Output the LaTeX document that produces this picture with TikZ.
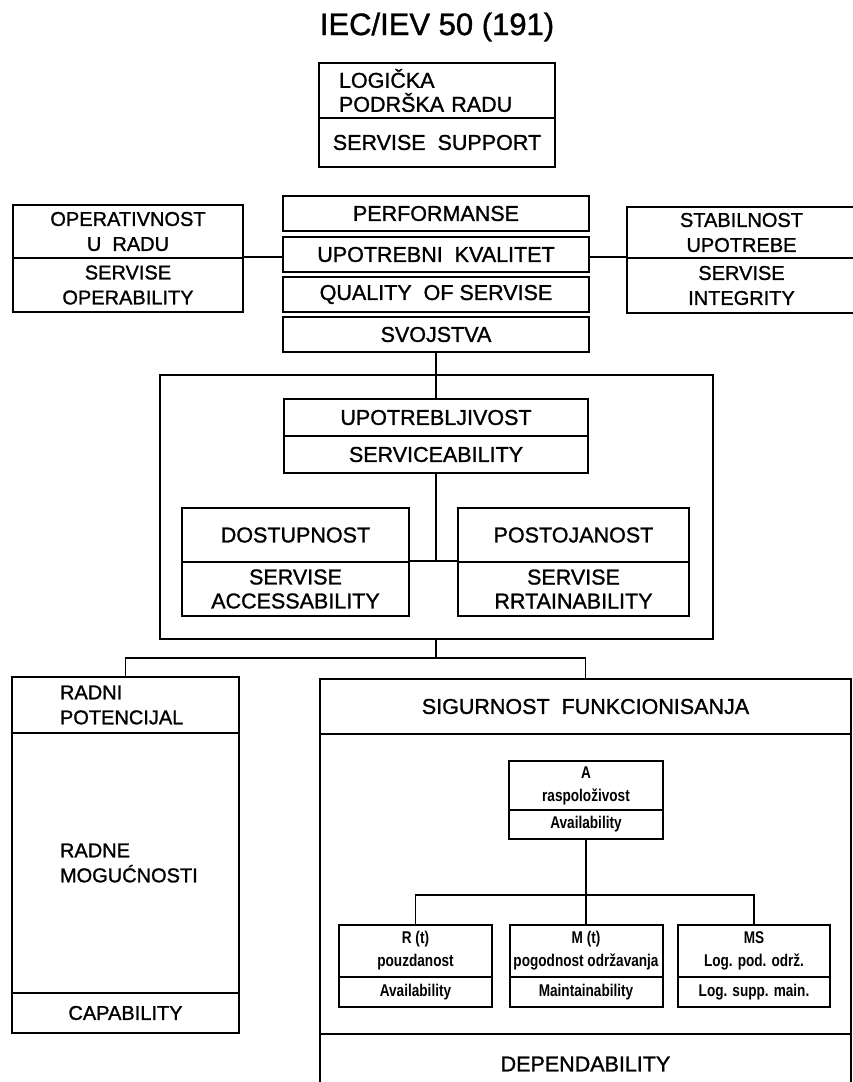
\documentclass[tikz,border=0pt]{standalone}
\usepackage{fontspec}
\setmainfont{Liberation Sans}[FakeBold=1.2]
\newfontfamily\narrowsans{Liberation Sans Bold}[FakeStretch=0.8]
\usetikzlibrary{positioning}

\begin{document}
\begin{tikzpicture}[
            x = 1pt, y = -1pt, % pixel units, y grows downwards
            line width = 1.8pt, % connector style
            font = \fontsize{21.5}{24}\selectfont
        ]

        \tikzstyle{cell}=[
            draw = black,
            line width = 2pt,
            inner sep = 0pt,
            align = center
        ]
        \tikzstyle{side cell}=[
            cell,
            font = \fontsize{20}{25}\selectfont
        ]
        \tikzstyle{small cell}=[
            cell,
            font = \narrowsans\fontsize{17}{23}\selectfont
        ]

        \useasboundingbox (0,0) rectangle (853,1082);

        \node (title) at (437,27) {\fontsize{31}{36}\selectfont IEC/IEV 50 (191)};

        % support box
        \node[cell, text width=196pt, inner xsep=20pt, minimum height=55pt, align=left] (logtop) at (437,90.5) {LOGIČKA\\PODRŠKA RADU};
        \node[cell, minimum width=236pt, minimum height=49pt] (logbot) at (437,142.5) {SERVISE~~SUPPORT};

        % side boxes
        \node[side cell, minimum width=230pt, minimum height=53pt] (opertop) at (128,231.5) {OPERATIVNOST\\U~~RADU};
        \node[side cell, minimum width=230pt, minimum height=54pt] (operbot) at (128,285) {SERVISE\\OPERABILITY};
        \node[side cell, minimum width=229pt, minimum height=51pt] (stabtop) at (741.5,232.5) {STABILNOST\\UPOTREBE};
        \node[side cell, minimum width=229pt, minimum height=55pt] (stabbot) at (741.5,285.5) {SERVISE\\INTEGRITY};

        % central stack
        \node[cell, minimum width=306pt, minimum height=35pt] (perf) at (436,213.5) {PERFORMANSE};
        \node[cell, minimum width=306pt, minimum height=35pt] (upotr) at (436,254.5) {UPOTREBNI~~KVALITET};
        \node[cell, minimum width=306pt, minimum height=35pt] (quality) at (436,294.5) {QUALITY~~OF SERVISE};
        \node[cell, minimum width=306pt, minimum height=35pt] (svojstva) at (436,334.5) {SVOJSTVA};

        % serviceability frame
        \node[cell, minimum width=553pt, minimum height=264pt] (frame) at (436,507) {};
        \node[cell, minimum width=304pt, minimum height=37pt] (usetop) at (436,417.5) {UPOTREBLJIVOST};
        \node[cell, minimum width=304pt, minimum height=37pt] (usebot) at (436,454.5) {SERVICEABILITY};
        \node[cell, minimum width=227pt, minimum height=54pt] (dosttop) at (295.5,535) {DOSTUPNOST};
        \node[cell, minimum width=227pt, minimum height=54pt] (dostbot) at (295.5,589) {SERVISE\\ACCESSABILITY};
        \node[cell, minimum width=231pt, minimum height=54pt] (posttop) at (573.5,535) {POSTOJANOST};
        \node[cell, minimum width=231pt, minimum height=54pt] (postbot) at (573.5,589) {SERVISE\\RRTAINABILITY};

        % capability
        \node[side cell, text width=131pt, inner xsep=48pt, minimum height=56pt, align=left] (radtop) at (125.5,705) {RADNI\\POTENCIJAL};
        \node[side cell, text width=131pt, inner xsep=48pt, minimum height=260pt, align=left] (radmid) at (125.5,863) {RADNE\\MOGUĆNOSTI};
        \node[side cell, minimum width=227pt, minimum height=40pt] (radbot) at (125.5,1013) {CAPABILITY};

        % dependability
        \node[cell, minimum width=531pt, minimum height=55pt] (sigtop) at (585.5,706.5) {SIGURNOST~~FUNKCIONISANJA};
        \node[cell, minimum width=531pt, minimum height=300pt] (sigmid) at (585.5,884) {};
        \node[cell, minimum width=531pt, minimum height=60pt] (sigbot) at (585.5,1064) {DEPENDABILITY};

        \node[small cell, minimum width=154pt, minimum height=49pt] (avtop) at (586,785.5) {A\\raspoloživost};
        \node[small cell, minimum width=154pt, minimum height=29pt] (avbot) at (586,824.5) {Availability};
        \node[small cell, minimum width=153pt, minimum height=52pt] (reltop) at (415.5,951) {R (t)\\pouzdanost};
        \node[small cell, minimum width=153pt, minimum height=30pt] (relbot) at (415.5,992) {Availability};
        \node[small cell, minimum width=153pt, minimum height=52pt] (maintop) at (586,951) {M (t)\\pogodnost održavanja};
        \node[small cell, minimum width=153pt, minimum height=30pt] (mainbot) at (586,992) {Maintainability};
        \node[small cell, minimum width=152pt, minimum height=52pt] (logsuptop) at (754,951) {MS\\Log. pod. održ.};
        \node[small cell, minimum width=152pt, minimum height=30pt] (logsupbot) at (754,992) {Log. supp. main.};

        \coordinate (junc) at (436,562);
        \coordinate (bus) at (436,658);
        \coordinate (subbus) at (586,895);

        \draw (operbot.north east) -- (operbot.north east -| upotr.west);
        \draw (upotr.east |- stabbot.north west) -- (stabbot.north west);
        \draw (svojstva.south) -- (usetop.north);
        \draw (usebot.south) -- (junc);
        \draw (dostbot.north east) -- (postbot.north west);
        \draw (frame.south) -- (bus);
        \draw (radtop.north) |- (bus) -| (sigtop.north);
        \draw (avbot.south) -- (subbus);
        \draw (reltop.north) |- (subbus) -| (logsuptop.north);
        \draw (subbus) -- (maintop.north);

    \end{tikzpicture}
\end{document}
